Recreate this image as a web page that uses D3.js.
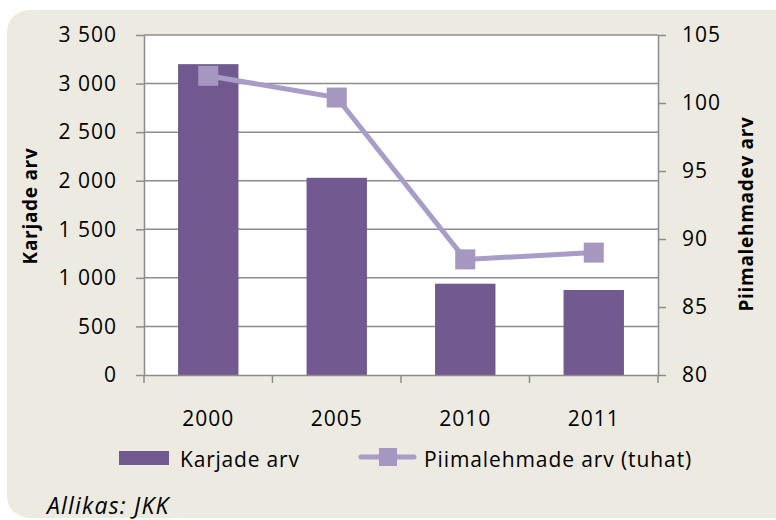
<!DOCTYPE html>
<html>
<head>
<meta charset="utf-8">
<script src="https://cdn.jsdelivr.net/npm/d3@7"></script>
<style>
  body { margin: 0; background: #fff; }
  text { font-family: "Open Sans", sans-serif; fill: #000; }
</style>
</head>
<body>
<svg width="776" height="520"></svg>
<script>
// data
const years = ["2000", "2005", "2010", "2011"];
const herds = [3200, 2030, 940, 875];          // Karjade arv
const dairyCows = [102.0, 100.4, 88.5, 89.0];   // Piimalehmade arv (tuhat)
const leftTicks = [0, 500, 1000, 1500, 2000, 2500, 3000, 3500];
const rightTicks = [80, 85, 90, 95, 100, 105];

const barColor = "#725a91",
	lineColor = "#a99cc6",
	markerColor = "#a597bf",
	gridColor = "#8c8c8c";

let svg = d3.select("svg");

const m = { left: 144, right: 658, top: 35, bottom: 375 };

// background panel
svg.append("rect")
	.attr("x", 7).attr("y", 10)
	.attr("width", 800).attr("height", 508)
	.attr("rx", 22)
	.attr("fill", "#edebe1");

svg.append("rect")
	.attr("x", m.left).attr("y", m.top)
	.attr("width", m.right - m.left).attr("height", m.bottom - m.top)
	.attr("fill", "#fff");

let x = d3.scaleBand().domain(years).range([m.left, m.right]).paddingInner(0.53).paddingOuter(0.265);
let xb = d3.scaleBand().domain(years).range([m.left, m.right]);
let yL = d3.scaleLinear().domain([0, 3500]).range([m.bottom, m.top]);
let yR = d3.scaleLinear().domain([80, 105]).range([m.bottom, m.top]);

// gridlines
svg.append("g")
	.selectAll("line")
	.data(leftTicks.filter(d => d > 0))
	.enter().append("line")
	.attr("x1", m.left).attr("x2", m.right)
	.attr("y1", d => yL(d)).attr("y2", d => yL(d))
	.attr("stroke", gridColor)
	.attr("stroke-width", 1.5);

// bars
svg.append("g")
	.selectAll("rect")
	.data(herds)
	.enter().append("rect")
	.attr("x", (d, i) => x(years[i]))
	.attr("width", x.bandwidth())
	.attr("y", d => yL(d))
	.attr("height", d => m.bottom - yL(d))
	.attr("fill", barColor);

// axes
function styleAxis(g) {
	g.select(".domain").attr("stroke", gridColor).attr("stroke-width", 1.5);
	g.selectAll(".tick line").attr("stroke", gridColor).attr("stroke-width", 1.5);
	g.selectAll("text")
		.style("font-size", "21px")
		.style("letter-spacing", "1px")
		.attr("fill", "#000");
}

let fmt = d => d3.format(",")(d).replace(",", " ");

svg.append("g")
	.attr("transform", "translate(" + m.left + ",0)")
	.call(d3.axisLeft(yL).tickValues(leftTicks).tickFormat(fmt).tickSize(8).tickSizeOuter(0).tickPadding(19))
	.call(styleAxis);

svg.append("g")
	.attr("transform", "translate(" + m.right + ",0)")
	.call(d3.axisRight(yR).tickValues(rightTicks).tickSize(8).tickSizeOuter(0).tickPadding(16))
	.call(styleAxis);

let xAxis = svg.append("g")
	.attr("transform", "translate(0," + m.bottom + ")")
	.call(d3.axisBottom(xb).tickSize(0).tickSizeOuter(0).tickPadding(36))
	.call(styleAxis);

// category boundary ticks
svg.append("g")
	.selectAll("line")
	.data(years.concat(["end"]))
	.enter().append("line")
	.attr("x1", (d, i) => m.left + i * xb.bandwidth())
	.attr("x2", (d, i) => m.left + i * xb.bandwidth())
	.attr("y1", m.bottom).attr("y2", m.bottom + 8)
	.attr("stroke", gridColor)
	.attr("stroke-width", 1.5);

// line series
let cx = i => xb(years[i]) + xb.bandwidth() / 2;
svg.append("path")
	.datum(dairyCows)
	.attr("d", d3.line().x((d, i) => cx(i)).y(d => yR(d)))
	.attr("fill", "none")
	.attr("stroke", lineColor)
	.attr("stroke-width", 5);

svg.append("g")
	.selectAll("rect")
	.data(dairyCows)
	.enter().append("rect")
	.attr("x", (d, i) => cx(i) - 10)
	.attr("y", d => yR(d) - 10)
	.attr("width", 20).attr("height", 20)
	.attr("fill", markerColor);

// axis titles
svg.append("text")
	.attr("transform", "translate(37,206) rotate(-90)")
	.attr("text-anchor", "middle")
	.style("font-size", "19px")
	.style("letter-spacing", "0.7px")
	.style("font-weight", "bold")
	.text("Karjade arv");

svg.append("text")
	.attr("transform", "translate(753,214) rotate(-90)")
	.attr("text-anchor", "middle")
	.style("font-size", "19px")
	.style("letter-spacing", "0.7px")
	.style("font-weight", "bold")
	.text("Piimalehmadev arv");

// legend
svg.append("rect")
	.attr("x", 119).attr("y", 451)
	.attr("width", 50).attr("height", 14)
	.attr("fill", barColor);
svg.append("text")
	.attr("x", 180).attr("y", 467)
	.style("font-size", "21px")
	.style("letter-spacing", "0.8px")
	.text("Karjade arv");

svg.append("line")
	.attr("x1", 361).attr("x2", 414)
	.attr("y1", 457).attr("y2", 457)
	.attr("stroke", lineColor)
	.attr("stroke-width", 5)
	.attr("stroke-linecap", "round");
svg.append("rect")
	.attr("x", 379).attr("y", 448)
	.attr("width", 18).attr("height", 18)
	.attr("fill", markerColor);
svg.append("text")
	.attr("x", 424).attr("y", 467)
	.style("font-size", "21px")
	.style("letter-spacing", "0.9px")
	.text("Piimalehmade arv (tuhat)");

// source
svg.append("text")
	.attr("x", 47).attr("y", 514)
	.style("font-size", "23px")
	.style("letter-spacing", "1.2px")
	.style("font-style", "italic")
	.text("Allikas: JKK");
</script>
</body>
</html>
